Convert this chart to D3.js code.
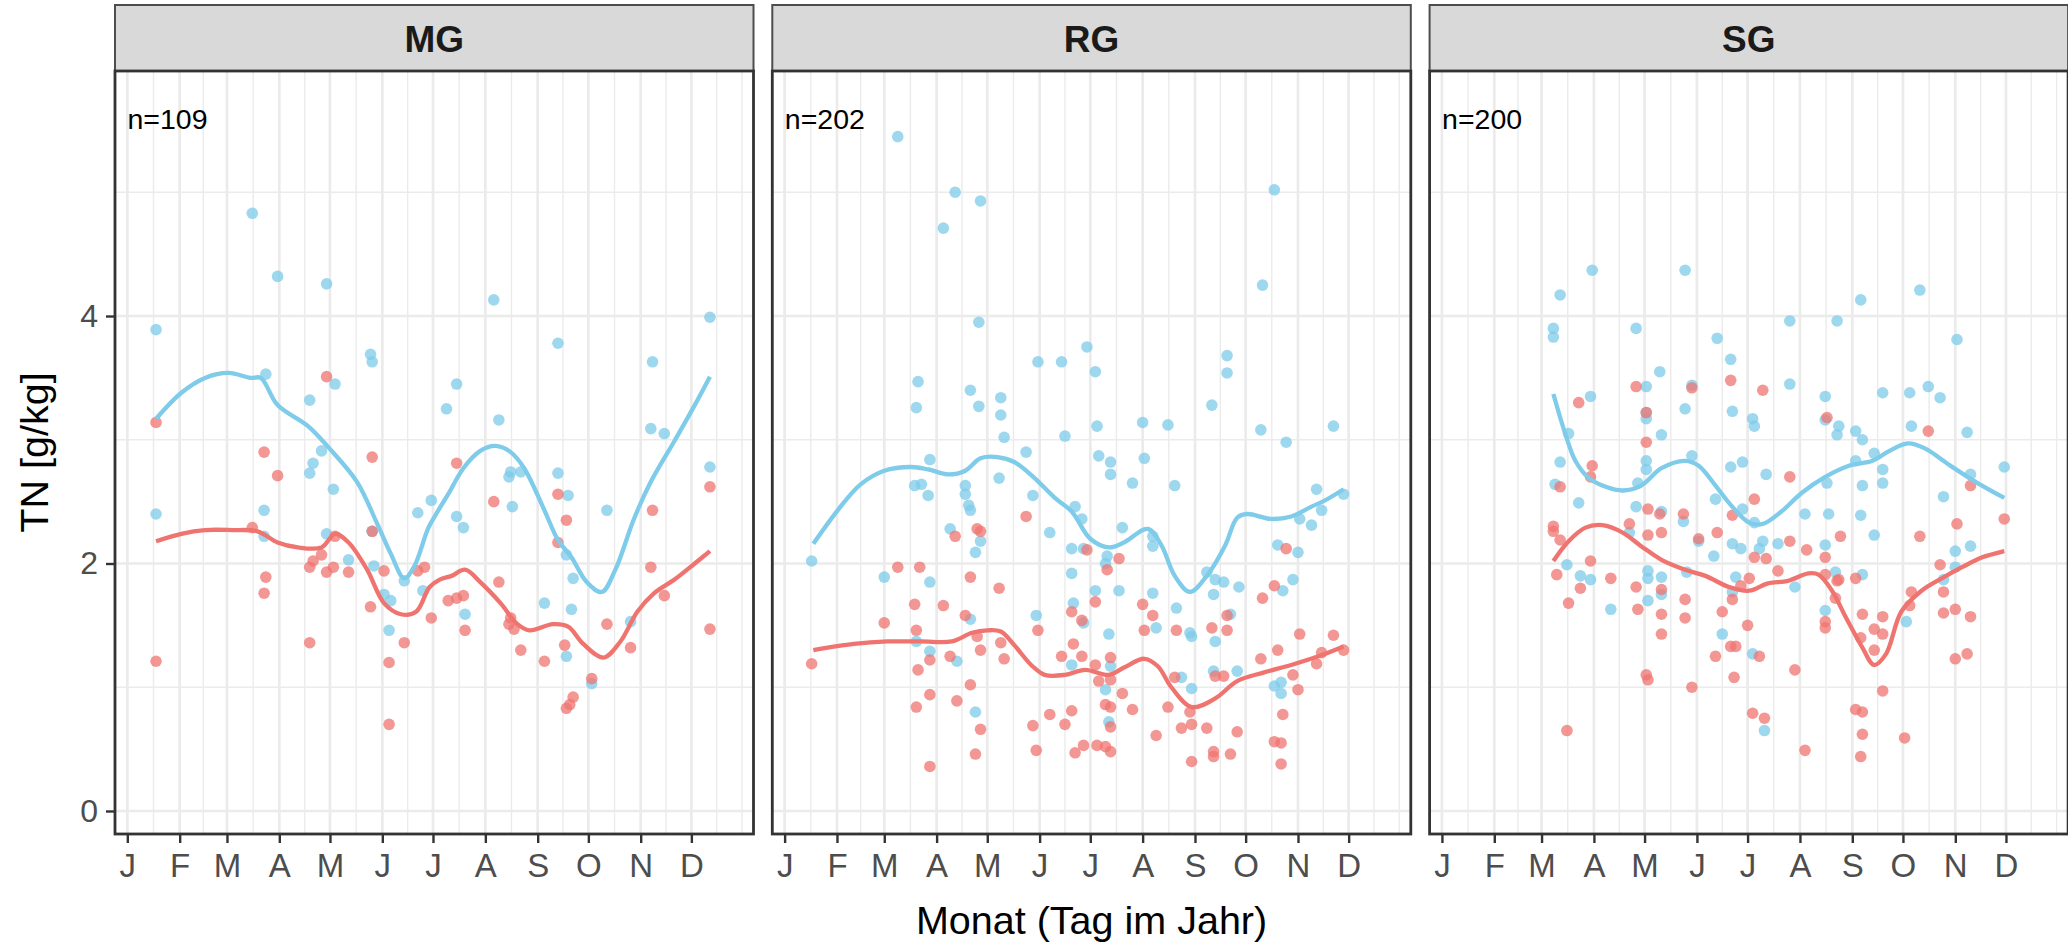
<!DOCTYPE html>
<html><head><meta charset="utf-8">
<script src="https://cdn.jsdelivr.net/npm/d3@7"></script>
<style>
html,body{margin:0;padding:0;background:#fff;}
svg{display:block;font-family:"Liberation Sans",Arial,Helvetica,sans-serif;}
</style></head><body>
<svg id="chart" width="2068" height="944"></svg>
<script>
// ---------- data ----------
const months = ["J","F","M","A","M","J","J","A","S","O","N","D"];
const monthDays = [1,32,60,91,121,152,182,213,244,274,305,335];
const yBreaks = [0,2,4];
const yMinorBreaks = [1,3,5];
const facetNames = ["MG","RG","SG"];
const facetCounts = ["n=109","n=202","n=200"];
const xTitle = "Monat (Tag im Jahr)";
const yTitle = "TN [g/kg]";

// MG
const mgBlue = [[75,4.83],[90,4.32],[119,4.26],[18,3.89],[145,3.69],[146,3.63],[83,3.53],[124,3.45],[109,3.32],[116,2.91],[111,2.81],[109,2.73],[123,2.60],[18,2.40],[82,2.43],[82,2.22],[119,2.24],[132,2.03],[147,1.98],[173,2.41],[181,2.51],[165,1.86],[176,1.78],[153,1.75],[157,1.70],[156,1.46],[146,2.26],
[218,4.13],[256,3.78],[312,3.63],[346,3.99],[196,3.45],[190,3.25],[221,3.16],[311,3.09],[319,3.05],[346,2.78],[228,2.74],[227,2.70],[234,2.74],[256,2.73],[262,2.55],[196,2.38],[200,2.29],[229,2.46],[285,2.43],[261,2.07],[265,1.88],[201,1.59],[248,1.68],[264,1.63],[299,1.53],[261,1.25],[276,1.03]];
const mgRed = [[18,3.14],[119,3.51],[82,2.90],[90,2.71],[146,2.86],[75,2.29],[124,2.22],[116,2.07],[111,2.02],[109,1.97],[119,1.93],[123,1.97],[132,1.93],[83,1.89],[82,1.76],[145,1.65],[109,1.36],[18,1.21],[153,1.94],[156,1.20],[165,1.36],[156,0.70],[173,1.94],[177,1.97],[181,1.56],[146,2.26],
[196,2.81],[218,2.50],[256,2.56],[261,2.35],[312,2.43],[346,2.62],[256,2.17],[311,1.97],[221,1.85],[191,1.70],[196,1.72],[200,1.74],[319,1.74],[201,1.46],[228,1.56],[227,1.51],[230,1.47],[234,1.30],[248,1.21],[260,1.34],[285,1.51],[299,1.32],[346,1.47],[276,1.07],[265,0.92],[263,0.86],[261,0.83]];
const mgBlueFit = [[18,3.17],[33,3.38],[47,3.50],[61,3.54],[74,3.50],[80,3.50],[90,3.28],[108,3.11],[120,2.94],[137,2.66],[149,2.32],[157,2.08],[165,1.88],[171,1.98],[179,2.28],[183,2.38],[191,2.56],[200,2.77],[210,2.91],[219,2.95],[228,2.90],[236,2.77],[248,2.43],[256,2.19],[264,2.05],[273,1.85],[282,1.77],[290,1.95],[301,2.36],[311,2.66],[325,2.99],[337,3.28],[346,3.51]];
const mgRedFit = [[18,2.18],[33,2.24],[47,2.27],[63,2.27],[78,2.26],[90,2.17],[102,2.13],[116,2.13],[124,2.24],[132,2.17],[143,1.95],[153,1.68],[163,1.59],[172,1.61],[180,1.81],[186,1.87],[193,1.90],[201,1.95],[210,1.85],[222,1.68],[232,1.51],[239,1.46],[253,1.51],[262,1.49],[271,1.35],[283,1.24],[293,1.37],[303,1.61],[313,1.76],[325,1.87],[337,2.00],[346,2.10]];

// RG
const rgBlue = [[68,5.45],[102,5.00],[117,4.93],[95,4.71],[116,3.95],[180,3.75],[151,3.63],[165,3.63],[80,3.47],[111,3.40],[129,3.34],[79,3.26],[116,3.27],[129,3.20],[131,3.02],[167,3.03],[144,2.90],[87,2.84],[128,2.69],[78,2.63],[82,2.64],[86,2.55],[108,2.63],[108,2.56],[110,2.47],[111,2.43],[148,2.55],[173,2.46],[177,2.36],[99,2.28],[117,2.18],[114,2.09],[158,2.25],[171,2.12],[178,2.12],[17,2.02],[60,1.89],[87,1.85],[171,1.92],[172,1.68],[178,1.52],[111,1.55],[150,1.58],[79,1.37],[87,1.29],[103,1.21],[171,1.18],[114,0.80],
[291,5.02],[284,4.25],[263,3.68],[263,3.54],[185,3.55],[254,3.28],[186,3.11],[213,3.14],[228,3.12],[283,3.08],[298,2.98],[326,3.11],[187,2.87],[194,2.82],[194,2.72],[214,2.85],[207,2.65],[232,2.63],[316,2.60],[332,2.56],[319,2.43],[306,2.36],[313,2.31],[201,2.29],[219,2.22],[219,2.14],[293,2.15],[305,2.09],[192,2.06],[191,2.00],[251,1.93],[256,1.87],[261,1.85],[270,1.81],[255,1.75],[185,1.78],[199,1.78],[219,1.76],[296,1.78],[302,1.87],[233,1.64],[265,1.59],[193,1.43],[221,1.48],[241,1.44],[242,1.41],[256,1.37],[194,1.17],[236,1.08],[242,0.99],[255,1.13],[269,1.13],[191,0.98],[291,1.01],[295,1.04],[295,0.95],[193,0.72]];
const rgRed = [[144,2.38],[102,2.22],[115,2.28],[117,2.26],[68,1.97],[81,1.97],[111,1.89],[128,1.80],[78,1.67],[95,1.66],[108,1.58],[60,1.52],[79,1.46],[151,1.46],[115,1.41],[171,1.61],[177,1.54],[129,1.36],[117,1.30],[131,1.23],[99,1.25],[87,1.22],[165,1.25],[172,1.35],[177,1.25],[17,1.19],[80,1.14],[111,1.02],[103,0.89],[87,0.94],[79,0.84],[117,0.66],[114,0.46],[87,0.36],[148,0.69],[158,0.78],[167,0.70],[171,0.81],[150,0.49],[173,0.47],[178,0.53],[180,2.11],
[298,2.12],[199,2.04],[192,1.95],[291,1.82],[284,1.72],[185,1.69],[213,1.67],[219,1.58],[263,1.58],[214,1.46],[233,1.46],[254,1.48],[263,1.46],[306,1.43],[326,1.42],[194,1.24],[185,1.18],[187,1.05],[194,1.06],[283,1.23],[293,1.30],[319,1.28],[316,1.19],[332,1.30],[232,1.08],[256,1.09],[261,1.09],[302,1.10],[305,0.98],[201,0.95],[191,0.86],[194,0.84],[207,0.82],[228,0.84],[241,0.80],[296,0.78],[194,0.68],[221,0.61],[236,0.67],[242,0.70],[251,0.67],[269,0.64],[186,0.53],[191,0.52],[194,0.48],[255,0.48],[255,0.44],[265,0.46],[242,0.40],[291,0.56],[295,0.55],[295,0.38]];
const rgBlueFit = [[18,2.16],[33,2.44],[46,2.64],[60,2.75],[76,2.78],[86,2.76],[98,2.72],[108,2.75],[117,2.85],[127,2.86],[137,2.82],[149,2.69],[161,2.53],[171,2.42],[182,2.20],[193,2.13],[202,2.17],[216,2.28],[224,2.15],[232,1.90],[241,1.77],[251,1.90],[262,2.15],[269,2.37],[275,2.40],[289,2.36],[301,2.38],[313,2.46],[321,2.51],[332,2.60]];
const rgRedFit = [[18,1.30],[42,1.35],[62,1.37],[82,1.37],[100,1.37],[112,1.44],[121,1.46],[129,1.45],[137,1.34],[147,1.18],[155,1.10],[167,1.10],[179,1.14],[193,1.10],[202,1.16],[214,1.23],[222,1.17],[230,1.00],[242,0.84],[256,0.91],[269,1.05],[285,1.12],[301,1.18],[317,1.25],[332,1.33]];

// SG
const sgBlue = [[90,4.37],[145,4.37],[71,4.17],[67,3.90],[67,3.83],[116,3.90],[164,3.82],[172,3.65],[130,3.55],[122,3.43],[149,3.44],[89,3.35],[145,3.25],[173,3.23],[122,3.22],[122,3.17],[76,3.05],[131,3.04],[149,2.87],[172,2.78],[179,2.82],[71,2.82],[122,2.83],[122,2.76],[117,2.65],[68,2.64],[82,2.49],[116,2.46],[131,2.42],[144,2.34],[163,2.52],[179,2.44],[153,2.18],[112,2.25],[173,2.16],[178,2.12],[162,2.06],[75,1.99],[83,1.90],[89,1.87],[123,1.94],[123,1.88],[131,1.89],[131,1.75],[146,1.93],[175,1.89],[101,1.63],[123,1.70],[167,1.43],[173,1.77],
[284,4.21],[249,4.13],[207,3.96],[235,3.96],[306,3.81],[207,3.45],[228,3.35],[262,3.38],[278,3.38],[289,3.43],[296,3.34],[185,3.17],[186,3.11],[228,3.16],[236,3.11],[235,3.04],[246,3.07],[250,3.00],[279,3.11],[312,3.06],[257,2.89],[246,2.83],[262,2.76],[262,2.65],[193,2.72],[229,2.65],[250,2.63],[314,2.72],[334,2.78],[298,2.54],[186,2.33],[216,2.40],[230,2.40],[249,2.39],[257,2.23],[191,2.18],[189,2.12],[200,2.16],[228,2.15],[305,2.10],[314,2.14],[234,1.93],[250,1.91],[305,1.97],[298,1.87],[210,1.81],[228,1.62],[276,1.53],[185,1.27],[192,0.65]];
const sgRed = [[116,3.43],[149,3.42],[172,3.48],[82,3.30],[122,3.22],[122,2.98],[90,2.79],[89,2.70],[71,2.62],[123,2.44],[130,2.40],[144,2.40],[173,2.39],[67,2.30],[67,2.26],[71,2.19],[112,2.32],[123,2.23],[131,2.25],[153,2.20],[164,2.25],[89,2.02],[69,1.91],[101,1.88],[116,1.81],[131,1.79],[83,1.80],[76,1.68],[117,1.63],[145,1.71],[131,1.59],[145,1.56],[131,1.43],[167,1.61],[173,1.71],[178,1.82],[163,1.25],[172,1.33],[175,1.33],[174,1.08],[122,1.10],[123,1.06],[149,1.00],[75,0.65],
[191,3.40],[229,3.18],[289,3.07],[207,2.70],[314,2.63],[186,2.52],[306,2.32],[334,2.36],[284,2.22],[237,2.22],[207,2.18],[217,2.11],[186,2.05],[193,2.04],[228,2.05],[200,1.94],[296,1.99],[183,1.88],[228,1.91],[235,1.86],[236,1.87],[246,1.88],[279,1.77],[298,1.77],[234,1.72],[278,1.66],[250,1.59],[262,1.57],[298,1.60],[305,1.63],[314,1.57],[228,1.53],[228,1.48],[182,1.50],[257,1.47],[262,1.43],[249,1.40],[257,1.30],[189,1.25],[210,1.14],[305,1.23],[312,1.27],[262,0.97],[246,0.82],[250,0.80],[185,0.79],[192,0.75],[250,0.62],[275,0.59],[216,0.49],[249,0.44]];
const sgBlueFit = [[67,3.37],[74,3.05],[80,2.83],[88,2.69],[98,2.62],[108,2.59],[119,2.63],[131,2.77],[145,2.83],[153,2.79],[163,2.63],[171,2.49],[183,2.33],[191,2.32],[202,2.42],[214,2.57],[228,2.70],[242,2.79],[256,2.83],[266,2.91],[277,2.97],[287,2.93],[301,2.80],[317,2.66],[334,2.53]];
const sgRedFit = [[67,2.02],[76,2.18],[86,2.29],[96,2.31],[108,2.25],[119,2.14],[131,2.03],[145,1.95],[157,1.90],[171,1.81],[183,1.78],[194,1.84],[206,1.86],[218,1.92],[224,1.91],[232,1.78],[240,1.57],[250,1.32],[257,1.18],[264,1.27],[273,1.61],[285,1.78],[297,1.88],[309,1.97],[321,2.05],[334,2.10]];

const facets = [
  {name: facetNames[0], n: facetCounts[0], blue: mgBlue, red: mgRed, blueFit: mgBlueFit, redFit: mgRedFit},
  {name: facetNames[1], n: facetCounts[1], blue: rgBlue, red: rgRed, blueFit: rgBlueFit, redFit: rgRedFit},
  {name: facetNames[2], n: facetCounts[2], blue: sgBlue, red: sgRed, blueFit: sgBlueFit, redFit: sgRedFit}
];

// ---------- layout ----------
const left0 = 115, panelW = 638.5, gap = 18.8;
const stripTop = 5, panelTop = 71, panelBottom = 834;
const panelH = panelBottom - panelTop;
const blueCol = "#7ECBEA", redCol = "#EF7470";

const x = d3.scaleLinear().domain([-6.3, 371.8]).range([0, panelW]);
const y = d3.scaleLinear().domain([-0.186, 5.98]).range([panelH, 0]);

// minor x breaks (ggplot style: midpoints, extended by one step)
const ext = [monthDays[0] - (monthDays[1] - monthDays[0]), ...monthDays,
             monthDays[11] + (monthDays[11] - monthDays[10])];
let xMinor = [];
for (let i = 0; i < ext.length - 1; i++) { xMinor.push(ext[i], (ext[i] + ext[i+1]) / 2); }
xMinor.push(ext[ext.length - 1]);
const dom = x.domain();
xMinor = xMinor.filter(d => d >= dom[0] && d <= dom[1] && !monthDays.includes(d));

const svg = d3.select("#chart");
svg.append("rect").attr("width", 2068).attr("height", 944).attr("fill", "#fff");

const line = d3.line().x(d => x(d[0])).y(d => y(d[1])).curve(d3.curveCatmullRom.alpha(0.5));

facets.forEach((f, i) => {
  const left = left0 + i * (panelW + gap);
  // strip
  svg.append("rect").attr("x", left).attr("y", stripTop).attr("width", panelW)
     .attr("height", panelTop - stripTop).attr("fill", "#D9D9D9")
     .attr("stroke", "#4d4d4d").attr("stroke-width", 2);
  svg.append("text").attr("x", left + panelW / 2).attr("y", 52)
     .attr("text-anchor", "middle").attr("font-size", 37).attr("font-weight", "bold")
     .attr("fill", "#1A1A1A").text(f.name);

  const g = svg.append("g").attr("transform", `translate(${left},${panelTop})`);
  g.append("rect").attr("width", panelW).attr("height", panelH).attr("fill", "#fff");

  // grid
  g.selectAll(".vmin").data(xMinor).enter().append("line")
    .attr("x1", d => x(d)).attr("x2", d => x(d)).attr("y1", 0).attr("y2", panelH)
    .attr("stroke", "#EBEBEB").attr("stroke-width", 1.4);
  g.selectAll(".hmin").data(yMinorBreaks).enter().append("line")
    .attr("y1", d => y(d)).attr("y2", d => y(d)).attr("x1", 0).attr("x2", panelW)
    .attr("stroke", "#EBEBEB").attr("stroke-width", 1.4);
  g.selectAll(".vmaj").data(monthDays).enter().append("line")
    .attr("x1", d => x(d)).attr("x2", d => x(d)).attr("y1", 0).attr("y2", panelH)
    .attr("stroke", "#EBEBEB").attr("stroke-width", 2.7);
  g.selectAll(".hmaj").data(yBreaks).enter().append("line")
    .attr("y1", d => y(d)).attr("y2", d => y(d)).attr("x1", 0).attr("x2", panelW)
    .attr("stroke", "#EBEBEB").attr("stroke-width", 2.7);

  // points
  g.append("g").selectAll("circle").data(f.blue).enter().append("circle")
    .attr("cx", d => x(d[0])).attr("cy", d => y(d[1])).attr("r", 5.8)
    .attr("fill", blueCol).attr("fill-opacity", 0.75);
  g.append("g").selectAll("circle").data(f.red).enter().append("circle")
    .attr("cx", d => x(d[0])).attr("cy", d => y(d[1])).attr("r", 5.8)
    .attr("fill", redCol).attr("fill-opacity", 0.75);

  // smooth lines
  g.append("path").datum(f.blueFit).attr("d", line).attr("fill", "none")
    .attr("stroke", blueCol).attr("stroke-width", 4.3).attr("stroke-linecap", "butt");
  g.append("path").datum(f.redFit).attr("d", line).attr("fill", "none")
    .attr("stroke", redCol).attr("stroke-width", 4.3).attr("stroke-linecap", "butt");

  // n label
  g.append("text").attr("x", 12.5).attr("y", 128.5 - panelTop).attr("font-size", 28.5)
    .attr("fill", "#000").text(f.n);

  // border
  g.append("rect").attr("width", panelW).attr("height", panelH).attr("fill", "none")
    .attr("stroke", "#333333").attr("stroke-width", 2.8);

  // x axis
  const xa = svg.append("g").attr("transform", `translate(${left},${panelBottom})`)
    .call(d3.axisBottom(x).tickValues(monthDays).tickFormat((d, k) => months[k])
      .tickSize(9).tickPadding(11));
  xa.select(".domain").remove();
  xa.selectAll(".tick line").attr("stroke", "#333333").attr("stroke-width", 2.4);
  xa.selectAll(".tick text").attr("fill", "#4D4D4D").attr("font-size", 33)
    .attr("font-family", "'Liberation Sans',Arial,sans-serif");

  if (i === 0) {
    const ya = svg.append("g").attr("transform", `translate(${left},${panelTop})`)
      .call(d3.axisLeft(y).tickValues(yBreaks).tickFormat(d3.format("d"))
        .tickSize(9).tickPadding(8));
    ya.select(".domain").remove();
    ya.selectAll(".tick line").attr("stroke", "#333333").attr("stroke-width", 2.4);
    ya.selectAll(".tick text").attr("fill", "#4D4D4D").attr("font-size", 32)
      .attr("font-family", "'Liberation Sans',Arial,sans-serif");
  }
});

// titles
svg.append("text").attr("x", left0 + (3 * panelW + 2 * gap) / 2).attr("y", 934)
  .attr("text-anchor", "middle").attr("font-size", 39.5).attr("fill", "#000").text(xTitle);
svg.append("text").attr("transform", `translate(48,${(panelTop + panelBottom) / 2}) rotate(-90)`)
  .attr("text-anchor", "middle").attr("font-size", 39.5).attr("fill", "#000").text(yTitle);
</script>
</body></html>
